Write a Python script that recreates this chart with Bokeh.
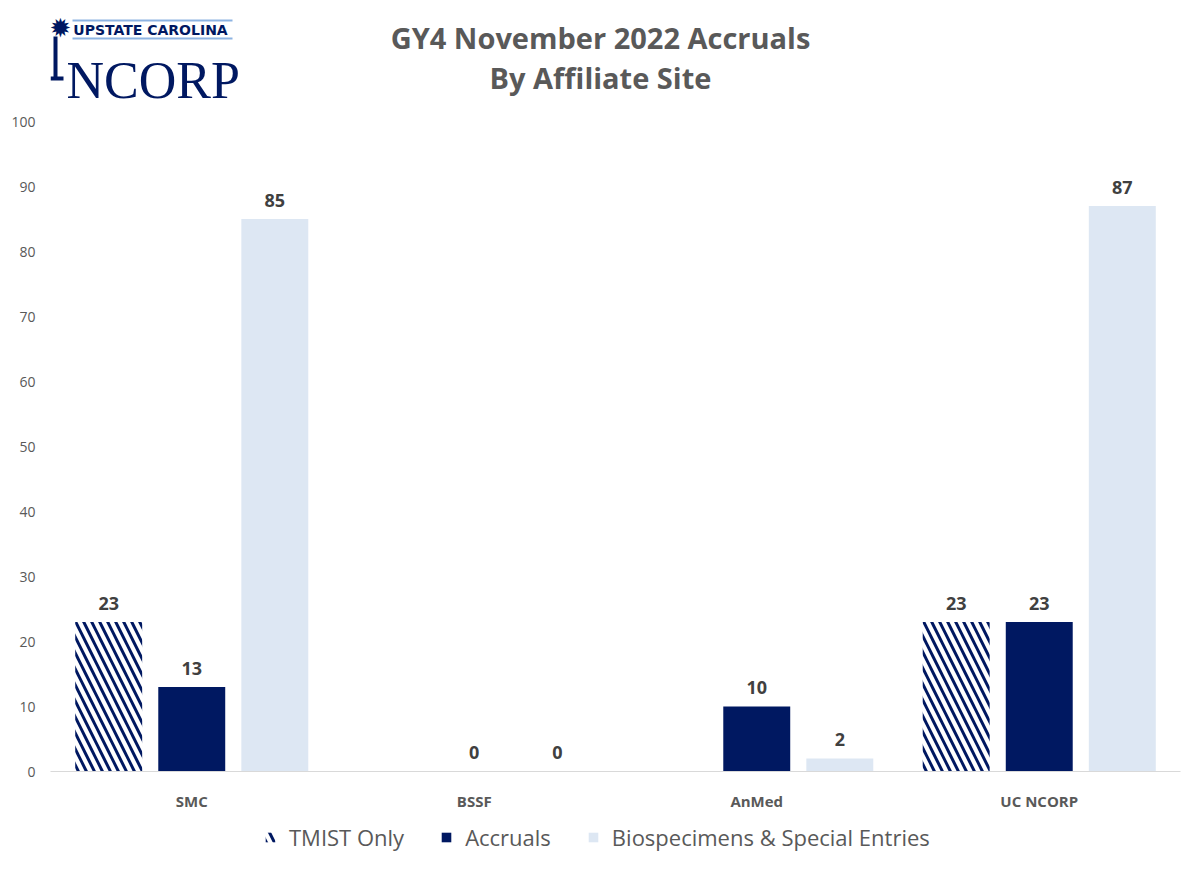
from bokeh.plotting import figure
from bokeh.layouts import column
from bokeh.models import (ColumnDataSource, FactorRange, FixedTicker, Legend,
                          LegendItem, Label, BoxAnnotation, Range1d)
from bokeh.transform import dodge
from bokeh.core.properties import value
from bokeh.embed import file_html
from bokeh.resources import INLINE

# ---------------- data ----------------
sites = ["SMC", "BSSF", "AnMed", "UC NCORP"]
tmist_only = [23, None, None, 23]
accruals = [13, 0, 10, 23]
biospecimens = [85, 0, 2, 87]
y_ticks = [0, 10, 20, 30, 40, 50, 60, 70, 80, 90, 100]
series_names = ["TMIST Only", "Accruals", "Biospecimens & Special Entries"]
title_lines = ["GY4 November 2022 Accruals", "By Affiliate Site"]

NAVY = "#001861"
LIGHT = "#DDE7F3"
GRAY = "#595959"
DARK = "#404040"
FONT = "Open Sans"

# layout geometry (pixels)
FIG_W = 1200
MAIN_H = 819
LEG_H = 52
LEFT = 50
RIGHT = 20
BASE_Y = 771          # pixel row of value 0
TOP100_Y = 121        # pixel row of value 100
Y_MAX = 100 * BASE_Y / (BASE_Y - TOP100_Y)


def make_source(vals):
    xs = [s for s, v in zip(sites, vals) if v is not None]
    ys = [v for v in vals if v is not None]
    return ColumnDataSource(dict(site=xs, value=ys, label=[str(v) for v in ys]))


src_t = make_source(tmist_only)
src_a = make_source(accruals)
src_b = make_source(biospecimens)

p = figure(x_range=FactorRange(*sites, range_padding=0), y_range=Range1d(0, Y_MAX),
           width=FIG_W, height=MAIN_H, output_backend="svg", toolbar_location=None,
           title=None, min_border_left=LEFT, min_border_right=RIGHT,
           min_border_top=0, min_border_bottom=MAIN_H - BASE_Y)
p.outline_line_color = None
p.xgrid.visible = False
p.ygrid.visible = False
p.background_fill_color = "white"
p.border_fill_color = "white"

p.yaxis.ticker = FixedTicker(ticks=y_ticks)
p.yaxis.axis_line_color = None
p.yaxis.major_tick_line_color = None
p.yaxis.major_tick_out = 0
p.yaxis.minor_tick_line_color = None
p.yaxis.major_label_text_font = FONT
p.yaxis.major_label_text_font_size = "14px"
p.yaxis.major_label_text_color = GRAY
p.yaxis.major_label_standoff = 15

p.xaxis.axis_line_color = "#D9D9D9"
p.xaxis.major_tick_line_color = None
p.xaxis.major_tick_out = 0
p.xaxis.minor_tick_line_color = None
p.xaxis.major_label_text_font = FONT
p.xaxis.major_label_text_font_style = "bold"
p.xaxis.major_label_text_font_size = "15px"
p.xaxis.major_label_text_color = GRAY
p.xaxis.major_label_standoff = 19

OFF = 0.294
W = 0.237
hatch_style = dict(fill_color="white", line_color=None, hatch_pattern="\\",
                   hatch_color=NAVY, hatch_weight=3, hatch_scale=16)
acc_style = dict(fill_color=NAVY, line_color=None)
bio_style = dict(fill_color=LIGHT, line_color=None)
series = ((src_t, -OFF, hatch_style), (src_a, 0, acc_style), (src_b, OFF, bio_style))

for src, off, style in series:
    p.vbar(x=dodge("site", off, range=p.x_range), top="value", width=W, source=src, **style)
    p.text(x=dodge("site", off, range=p.x_range), y="value", text="label", source=src,
           text_align="center", text_baseline="middle", y_offset=-19,
           text_font=value(FONT), text_font_style="bold", text_font_size="18px",
           text_color=DARK)


# ---------------- title and logo (screen units inside the frame) ----------------
def slabel(fig, x, y, text, **kw):
    fig.add_layout(Label(x=x, y=y, x_units="screen", y_units="screen", text=text, **kw))


def sbox(fig, l, r, b, t, color):
    fig.add_layout(BoxAnnotation(left=l, right=r, bottom=b, top=t,
                                 left_units="screen", right_units="screen",
                                 bottom_units="screen", top_units="screen",
                                 fill_color=color, fill_alpha=1, line_color=None))


slabel(p, 550, 734, title_lines[0], text_align="center", text_baseline="middle",
       text_font=FONT, text_font_size="29px", text_font_style="bold", text_color=GRAY)
slabel(p, 550, 694, title_lines[1], text_align="center", text_baseline="middle",
       text_font=FONT, text_font_size="29px", text_font_style="bold", text_color=GRAY)

LOGO_BLUE = "#8DB3E2"
sbox(p, 22, 182, 750, 752, LOGO_BLUE)
sbox(p, 22, 182, 732, 734, LOGO_BLUE)
sbox(p, 3, 7, 694, 735, NAVY)
sbox(p, 0, 13, 691, 695, NAVY)
slabel(p, 10, 744, "✹", text_align="center", text_baseline="middle",
       text_font="DejaVu Sans", text_font_size="26px", text_color=NAVY)
slabel(p, 100, 742, "UPSTATE CAROLINA", text_align="center", text_baseline="middle",
       text_font="DejaVu Sans", text_font_size="14px", text_font_style="bold",
       text_color=NAVY)
slabel(p, 16, 691, "NCORP", text_align="left", text_baseline="alphabetic",
       text_font="Liberation Serif", text_font_size="52px", text_color=NAVY)

# ---------------- legend strip (keys reuse the real series; the key renderers are hidden) ----
lg = figure(width=FIG_W, height=LEG_H, x_range=FactorRange(*sites, range_padding=0),
            y_range=Range1d(1000, 1001), output_backend="svg", toolbar_location=None,
            title=None, x_axis_location=None, y_axis_location=None,
            min_border_left=LEFT, min_border_right=RIGHT, min_border_top=0,
            min_border_bottom=0)
lg.outline_line_color = None
lg.xgrid.visible = False
lg.ygrid.visible = False
lg.background_fill_color = "white"
lg.border_fill_color = "white"
keys = [lg.vbar(x=dodge("site", off, range=lg.x_range), top="value", width=W,
                source=src, visible=False, **style) for src, off, style in series]

legend = Legend(items=[LegendItem(label=name, renderers=[r])
                       for name, r in zip(series_names, keys)],
                orientation="horizontal", location=(214, 19),
                label_text_font=FONT, label_text_font_size="22px",
                label_text_color=GRAY, glyph_width=12, glyph_height=12,
                label_standoff=13, spacing=36, border_line_color=None,
                background_fill_alpha=0, margin=0, padding=4)
lg.add_layout(legend, "center")

open("out.html", "w").write(file_html(column(p, lg, spacing=0), INLINE))
